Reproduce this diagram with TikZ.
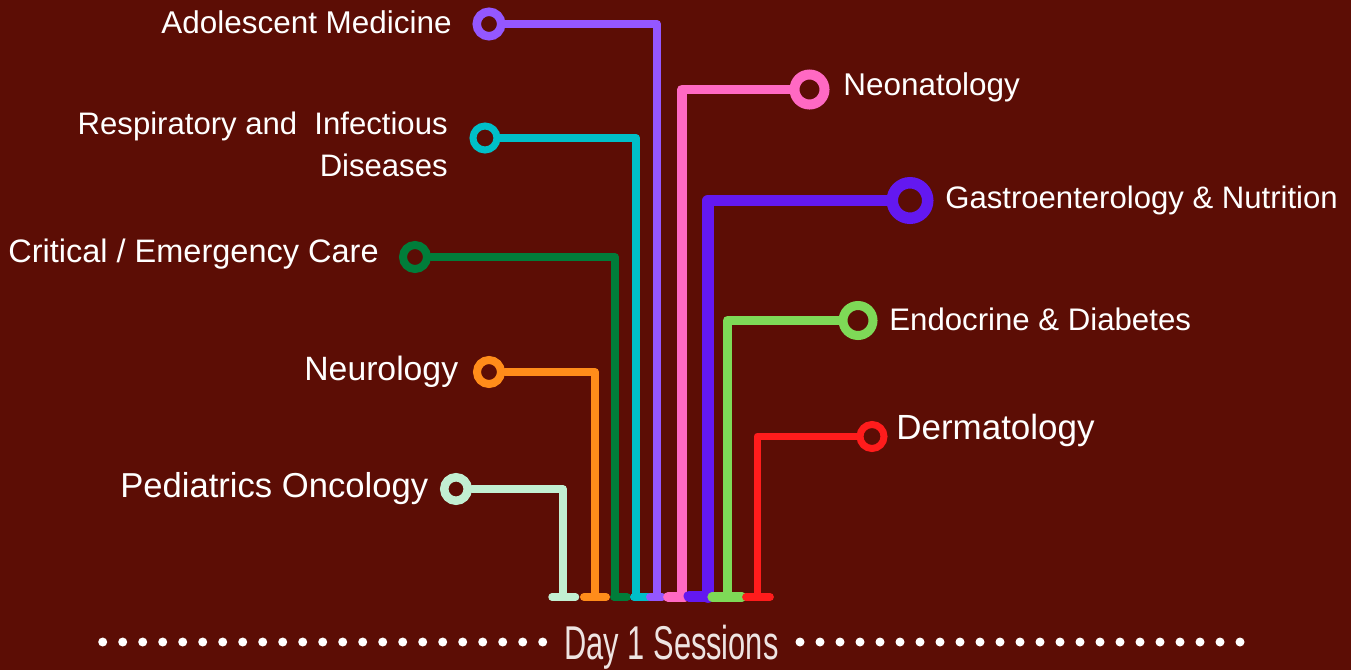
\documentclass[tikz,border=0pt]{standalone}
\usepackage{fontspec}
\setmainfont{Liberation Sans}
\newfontfamily\dayfont[FakeStretch=0.65]{Liberation Sans}
\usepackage{tikz}
\usetikzlibrary{positioning}
\definecolor{bgmaroon}{RGB}{92,13,5}
\definecolor{daytext}{RGB}{238,228,226}
\definecolor{adolpurple}{RGB}{148,87,255}
\definecolor{respcyan}{RGB}{0,191,200}
\definecolor{critgreen}{RGB}{0,125,58}
\definecolor{neuroorange}{RGB}{255,140,26}
\definecolor{oncomint}{RGB}{194,239,210}
\definecolor{neopink}{RGB}{255,105,195}
\definecolor{gastroviolet}{RGB}{99,24,240}
\definecolor{endolime}{RGB}{126,217,87}
\definecolor{dermred}{RGB}{255,28,28}

\begin{document}
\begin{tikzpicture}[
  x=0.02cm,y=-0.02cm,
  font=\fontsize{17.9}{23.8}\selectfont,
  stop/.style={circle,draw,fill=bgmaroon,inner sep=0pt,minimum size=0.48cm,line width=0.16cm},
  topic/.style={text=white,inner sep=0pt},
  track/.style={line width=0.16cm,line cap=round,line join=round},
  dot/.style={fill=white}
]
  \fill[bgmaroon] (0,0) rectangle (1351,670);
  \useasboundingbox (0,0) rectangle (1351,670);

  \node[stop,draw=adolpurple,minimum size=0.49cm,line width=0.17cm] (adol) at (489,24) {};
  \node[stop,draw=respcyan,line width=0.14cm] (resp) at (485,138) {};
  \node[stop,draw=critgreen] (crit) at (415,257) {};
  \node[stop,draw=neuroorange] (neuro) at (489,372) {};
  \node[stop,draw=oncomint,minimum size=0.47cm,line width=0.17cm] (onco) at (456,489) {};
  \node[stop,draw=neopink,minimum size=0.6cm,line width=0.2cm] (neo) at (809.5,89.5) {};
  \node[stop,draw=gastroviolet,minimum size=0.71cm,line width=0.23cm] (gastro) at (910,200.5) {};
  \node[stop,draw=endolime,minimum size=0.6cm,line width=0.18cm] (endo) at (858,320.5) {};
  \node[stop,draw=dermred,line width=0.14cm] (derm) at (872,436.5) {};

  \node[topic,anchor=base east] (adoltxt) at (452,33.5) {Adolescent Medicine};
  \node[topic,anchor=base east,align=right,font=\fontsize{17.7}{23.8}\selectfont] (resptxt) at (448,176) {Respiratory and\ \ Infectious\\Diseases};
  \node[topic,anchor=base east,font=\fontsize{18.5}{22}\selectfont] (crittxt) at (379,262.3) {Critical / Emergency Care};
  \node[topic,anchor=base east,font=\fontsize{19.2}{22}\selectfont] (neurotxt) at (458.5,380) {Neurology};
  \node[topic,anchor=base east,font=\fontsize{19.7}{22}\selectfont] (oncotxt) at (428.5,497) {Pediatrics Oncology};
  \node[topic,anchor=base west] (neotxt) at (843,95) {Neonatology};
  \node[topic,anchor=base west,font=\fontsize{17.7}{22}\selectfont] (gastrotxt) at (945,208.5) {Gastroenterology \& Nutrition};
  \node[topic,anchor=base west,font=\fontsize{17.75}{22}\selectfont] (endotxt) at (889,330) {Endocrine \& Diabetes};
  \node[topic,anchor=base west,font=\fontsize{19.9}{22}\selectfont] (dermtxt) at (896,439) {Dermatology};

  \coordinate (oncofoot) at (563,597);
  \coordinate (neurofoot) at (595,597);
  \coordinate (critfoot) at (615,597);
  \coordinate (respfoot) at (636,597);
  \coordinate (adolfoot) at (657,597);
  \coordinate (neofoot) at (682,597);
  \coordinate (gastrofoot) at (708,597);
  \coordinate (endofoot) at (727.5,597);
  \coordinate (dermfoot) at (757.5,597);

  \draw[track,oncomint,line width=0.15cm] (onco.east) -| (oncofoot);
  \draw[track,oncomint,line width=0.15cm] (552,597) -- (575.5,597);
  \draw[track,neuroorange] (neuro.east) -| (neurofoot);
  \draw[track,neuroorange] (584,597) -- (606,597);
  \draw[track,critgreen,line width=0.155cm] (crit.east) -| (critfoot);
  \draw[track,critgreen,line width=0.155cm] (614,597) -- (627,597);
  \draw[track,respcyan] (resp.east) -| (respfoot);
  \draw[track,respcyan] (634,597) -- (648,597);
  \draw[track,adolpurple] (adol.east) -| (adolfoot);
  \draw[track,adolpurple] (650,597) -- (662,597);
  \draw[track,neopink,line width=0.195cm] (neo.west) -| (neofoot);
  \draw[track,neopink,line width=0.195cm] (668,597) -- (685,597);
  \draw[track,gastroviolet,line width=0.235cm] (gastro.west) -| (gastrofoot);
  \draw[track,gastroviolet,line width=0.22cm] (689,596) -- (709,596);
  \draw[track,endolime,line width=0.185cm] (endo.west) -| (endofoot);
  \draw[track,endolime,line width=0.185cm] (712,597) -- (742,597);
  \draw[track,dermred,line width=0.155cm] (derm.west) -| (dermfoot);
  \draw[track,dermred,line width=0.155cm] (746,597) -- (770,597);

  \foreach \k in {0,...,22}{
    \fill[dot] (102.7+20*\k,642) circle[radius=4.5];
    \fill[dot] (800+20*\k,642) circle[radius=4.5];
  }
  \node[anchor=base west,inner sep=0pt,text=daytext,font=\dayfont\fontsize{27}{30}\selectfont] (daytitle) at (564,659) {Day 1 Sessions};
\end{tikzpicture}
\end{document}
